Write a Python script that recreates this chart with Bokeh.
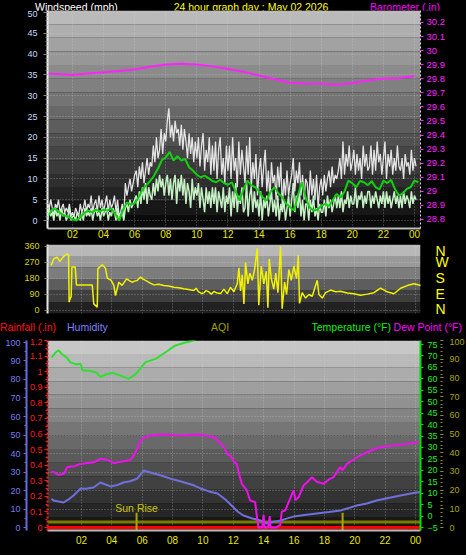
import numpy as np
from bokeh.plotting import figure
from bokeh.models import Range1d, LinearAxis, FixedTicker, NumeralTickFormatter, Grid, Div
from bokeh.layouts import column
from bokeh.embed import file_html
from bokeh.resources import INLINE
from bokeh.core.properties import value

FONT = "Liberation Sans"

# ------------------------------------------------------------------ data
chart_title = "24 hour graph day : May 02 2026"
hour_ticks = [2, 4, 6, 8, 10, 12, 14, 16, 18, 20, 22, 24]
hour_labels = ["02", "04", "06", "08", "10", "12", "14", "16", "18", "20", "22", "00"]

# wind, sampled every 0.1 h
wind_interval_h = 0.1
gust_mph = [2, 3, 2, 4, 3, 5, 3, 1, 4, 3,
            5, 2, 3, 4, 2, 3, 2, 4, 1, 2,
            1, 3, 2, 1, 4, 2, 3, 5, 2, 4,
            3, 6, 2, 4, 5, 2, 6, 3, 5, 2,
            4, 6, 2, 5, 3, 4, 6, 2, 5, 1,
            2, 4, 1, 9, 6, 8, 10, 7, 9, 11,
            12, 8, 13, 10, 14, 9, 12, 15, 11, 14,
            13, 18, 14, 20, 15, 17, 22, 16, 21, 19,
            24, 27, 20, 23, 19, 24, 21, 22, 18, 23,
            17, 22, 19, 15, 21, 16, 20, 14, 19, 15,
            20, 13, 18, 21, 12, 17, 14, 20, 11, 18,
            12, 19, 10, 17, 20, 11, 15, 9, 18, 12,
            18, 10, 20, 12, 15, 8, 19, 11, 17, 13,
            9, 18, 11, 20, 8, 14, 10, 16, 6, 12,
            15, 8, 13, 17, 7, 12, 5, 14, 9, 11,
            5, 13, 8, 14, 3, 10, 6, 12, 6, 9,
            11, 15, 7, 12, 9, 14, 6, 11, 5, 10,
            9, 4, 12, 6, 10, 5, 11, 3, 8, 10,
            6, 11, 7, 10, 12, 8, 13, 9, 11, 10,
            12, 15, 10, 19, 11, 16, 13, 18, 12, 14,
            17, 11, 16, 12, 15, 10, 18, 13, 16, 12,
            13, 18, 11, 17, 12, 19, 14, 16, 11, 15,
            19, 10, 16, 13, 17, 11, 15, 12, 18, 13,
            12, 15, 10, 16, 13, 14, 11, 17, 12, 15,
            13]
speed_mph = [0, 1, 2, 0, 3, 1, 2, 0, 3, 1,
             2, 0, 3, 1, 2, 0, 1, 3, 0, 1,
             1, 0, 2, 1, 0, 2, 0, 3, 1, 2,
             1, 3, 0, 2, 3, 1, 2, 0, 3, 1,
             2, 3, 0, 2, 1, 3, 2, 0, 3, 0,
             1, 2, 0, 3, 4, 2, 5, 3, 4, 5,
             6, 3, 7, 4, 8, 5, 9, 4, 8, 6,
             5, 9, 6, 10, 7, 11, 8, 10, 6, 9,
             11, 6, 10, 5, 9, 11, 4, 10, 7, 11,
             6, 10, 4, 9, 7, 3, 10, 5, 8, 6,
             9, 3, 8, 5, 2, 8, 4, 7, 3, 8,
             4, 8, 2, 7, 5, 3, 8, 2, 6, 4,
             8, 1, 7, 3, 9, 2, 6, 4, 8, 2,
             3, 9, 1, 6, 8, 2, 7, 3, 5, 1,
             7, 0, 5, 3, 6, 1, 4, 7, 2, 5,
             1, 6, 0, 4, 2, 5, 0, 3, 6, 1,
             5, 9, 2, 6, 3, 7, 1, 5, 0, 4,
             4, 0, 5, 2, 6, 1, 3, 0, 4, 2,
             2, 5, 1, 6, 3, 5, 2, 4, 6, 3,
             6, 3, 7, 2, 5, 4, 7, 3, 6, 4,
             4, 8, 3, 6, 5, 7, 3, 6, 4, 7,
             7, 3, 6, 4, 7, 5, 3, 6, 4, 7,
             3, 7, 4, 6, 3, 5, 7, 4, 6, 3,
             6, 3, 7, 4, 6, 5, 3, 7, 4, 6,
             5]
avg_interval_h = 0.25
avg_mph = [0.5, 1.5, 2.9, 2.5, 1.7, 1.2, 0.8, 0.3, 0.0, 0.8, 1.8, 2.4, 2.0, 2.6, 2.2, 2.6,
           2.4, 2.9, 1.5, 0.0, 2.5, 4.4, 3.8, 4.2, 5.5, 7.5, 8.5, 9.5, 10.8, 12.5, 14.5, 15.2,
           16.5, 14.4, 15.5, 14.4, 14.8, 12.8, 12.0, 11.0, 10.4, 10.8, 10.2, 9.5, 9.2, 9.8, 9.0, 8.6,
           9.2, 7.0, 4.8, 7.5, 9.6, 8.5, 8.0, 7.0, 5.5, 4.8, 7.0, 8.0, 6.5, 5.6, 4.0, 3.2,
           2.4, 6.0, 9.2, 5.5, 3.2, 2.4, 2.6, 3.5, 4.0, 3.5, 5.0, 6.4, 5.5, 7.0, 9.6, 9.0,
           8.0, 9.5, 9.2, 8.5, 9.5, 8.0, 7.5, 9.6, 9.0, 9.8, 7.5, 6.0, 6.5, 7.6, 8.0, 9.6, 9.2]

baro_hours = [0, 1, 2, 3, 4, 5, 6, 7, 8, 9, 10, 11, 12, 13, 14, 15, 16, 17, 18, 19, 20, 21, 22, 23, 24]
baro_in = [29.836, 29.834, 29.826, 29.838, 29.846, 29.855, 29.866, 29.885, 29.902, 29.907,
           29.902, 29.888, 29.870, 29.850, 29.823, 29.797, 29.772, 29.766, 29.764, 29.758,
           29.770, 29.787, 29.801, 29.806, 29.820]
wind_ticks = [0, 5, 10, 15, 20, 25, 30, 35, 40, 45, 50]
baro_ticks = [28.8, 28.9, 29.0, 29.1, 29.2, 29.3, 29.4, 29.5, 29.6, 29.7, 29.8, 29.9, 30.0, 30.1, 30.2]

# wind direction
dir_hours = [0.0, 0.18, 0.4, 0.57, 0.84, 1.06, 1.15, 1.19, 1.28, 1.32, 1.37, 1.59, 1.67, 2.71, 2.81,
             3.04, 3.08, 3.37, 3.58, 3.7, 3.96, 4.13, 4.24, 4.46, 4.68, 4.97, 5.15, 5.34, 5.5, 5.67,
             5.89, 6.05, 6.22, 6.5, 6.77, 7.1, 7.42, 7.75, 8.08, 8.4, 8.74, 9.05, 9.4, 9.55, 9.7,
             9.9, 10.06, 10.2, 10.4, 10.55, 10.72, 10.95, 11.16, 11.38, 11.6, 11.82, 12.04, 12.26,
             12.37, 12.48, 12.59, 12.7, 12.81, 12.96, 13.09, 13.25, 13.4, 13.58, 13.68, 13.84,
             14.01, 14.17, 14.28, 14.37, 14.5, 14.67, 14.8, 14.94, 15.11, 15.22, 15.38, 15.51,
             15.66, 15.82, 15.99, 16.17, 16.28, 16.36, 16.54, 16.76, 16.98, 17.2, 17.42, 17.53,
             17.64, 17.86, 18.08, 18.41, 18.74, 19.06, 19.51, 19.94, 20.38, 20.82, 21.26, 21.7,
             22.14, 22.58, 23.02, 23.46, 23.89, 24.38]
dir_deg = [253, 291, 300, 276, 305, 319, 310, 47, 75, 75, 244, 244, 144, 144, 37,
           19, 234, 257, 238, 182, 169, 141, 84, 159, 141, 178, 168, 159, 165, 169,
           188, 176, 169, 155, 144, 148, 141, 138, 131, 128, 122, 118, 112, 125, 106,
           96, 99, 112, 104, 92, 107, 98, 95, 120, 95, 130, 105, 150,
           240, 110, 200, 37, 270, 150, 210, 170, 230, 350, 30, 250,
           150, 220, 15, 290, 180, 120, 210, 100, 360, 10, 160, 90,
           230, 170, 250, 180, 310, 40, 100, 70, 90, 80, 140, 170,
           90, 70, 100, 115, 105, 108, 98, 94, 86, 92, 100, 126,
           105, 94, 125, 140, 150, 140]
dir_ticks = [0, 90, 180, 270, 360]
compass_labels = ["N", "E", "S", "W", "N"]

# temperature / dew point / humidity
temp_hours = [0.03, 0.29, 0.5, 0.75, 1.0, 1.28, 1.67, 1.94, 2.07, 2.46, 2.99, 3.25, 3.58, 4.05,
              4.57, 5.1, 5.56, 6.22, 6.88, 7.54, 8.19, 8.85, 9.38, 9.7]
temp_f = [69.3, 71.5, 72.4, 70.6, 69.5, 67.1, 66.3, 66.6, 63.6, 63.6, 62.8, 60.7, 61.9, 62.6,
          61.4, 60.0, 61.9, 67.3, 68.7, 71.6, 74.6, 75.9, 76.7, 78.0]
dew_hours = [0.03, 0.18, 0.5, 0.84, 1.06, 1.5, 1.94, 2.4, 2.81, 3.25, 3.69, 4.13, 4.5, 4.79, 5.2,
             5.45, 5.7, 5.89, 6.2, 6.55, 7.1, 7.65, 8.2, 8.74, 9.3, 9.84, 10.3, 10.72, 11.0, 11.16,
             11.4, 11.6, 11.82, 12.0, 12.23, 12.4, 12.56, 12.89, 13.11, 13.44, 13.55, 13.66, 13.9,
             14.0, 14.05, 14.3, 14.4, 14.45, 14.8, 15.09, 15.2, 15.42, 15.64, 15.97, 16.1, 16.3,
             16.63, 16.9, 17.18, 17.5, 17.94, 18.3, 18.6, 19.04, 19.2, 19.48, 20.14, 20.5, 20.8,
             21.2, 21.68, 22.1, 22.56, 23.0, 23.43, 23.8, 24.2]
dew_f = [19.5, 19.2, 18.0, 18.5, 21.4, 21.8, 22.8, 23.2, 23.5, 25.0, 24.6, 23.1, 23.6, 24.0, 24.5,
         26.5, 30.0, 33.0, 34.5, 35.2, 35.5, 35.7, 35.3, 35.2, 35.6, 35.7, 35.0, 34.5, 33.0, 31.6,
         30.0, 27.0, 26.5, 24.0, 22.8, 18.0, 14.1, 11.2, 6.8, 6.1, 0.0, -5.0, -5.0,
         0.5, -5.0, -5.0, 0.0, -5.0, -5.0, -4.0, 2.0, 2.4, 6.0, 11.2, 7.0, 8.2,
         13.4, 15.0, 17.0, 15.0, 14.1, 16.0, 17.0, 21.4, 20.0, 22.8, 25.7, 27.0, 27.9,
         29.0, 30.1, 30.5, 30.8, 31.2, 31.6, 32.0, 32.3]
hum_hours = [0.03, 0.16, 0.5, 0.82, 1.2, 1.48, 1.94, 2.3, 2.79, 3.25, 3.5, 3.91, 4.3, 4.77, 5.2,
             5.69, 6.09, 6.55, 7.3, 8.06, 8.5, 8.99, 9.4, 9.84, 10.4, 10.96, 11.5, 12.02, 12.3,
             12.67, 13.2, 13.79, 14.19, 14.6, 15.11, 15.5, 15.97, 16.7, 17.48, 18.3, 19.06, 19.6,
             20.12, 20.8, 21.44, 22.2, 23.02, 23.6, 24.07, 24.3]
hum_pct = [15.5, 14.6, 14.0, 13.5, 15.5, 17.3, 21.1, 21.0, 21.6, 24.3, 23.5, 22.2, 22.8, 24.3, 25.0,
           26.5, 30.8, 29.7, 28.0, 25.9, 25.0, 23.8, 22.8, 21.1, 19.5, 18.4, 15.0, 10.8, 8.5,
           6.5, 5.0, 3.8, 2.2, 3.0, 3.8, 4.8, 5.9, 6.8, 7.6, 8.4, 9.2, 10.5,
           11.9, 13.0, 14.6, 16.0, 17.3, 18.2, 18.9, 19.0]
aqi_hours = [-0.3, 1, 2, 3, 4, 5, 6, 7, 8, 9, 10, 11, 12, 13, 14, 15, 16, 17, 18, 19, 20, 21, 22, 23, 24, 24.4]
aqi = [3, 3, 3, 3, 3, 3, 3, 3, 3, 3, 3, 3, 3, 3, 3, 3, 3, 3, 3, 3, 3, 3, 3, 3, 3, 3]
rain_hours = [-0.3, 6, 12, 18, 24, 24.4]
rain_in = [0, 0, 0, 0, 0, 0]
sun_hours = [5.63, 19.2]
sun_labels = ["Sun Rise", ""]

hum_ticks = [0, 10, 20, 30, 40, 50, 60, 70, 80, 90, 100]
rain_ticks = [0, 0.1, 0.2, 0.3, 0.4, 0.5, 0.6, 0.7, 0.8, 0.9, 1.0, 1.1, 1.2]
temp_ticks = [-5, 0, 5, 10, 15, 20, 25, 30, 35, 40, 45, 50, 55, 60, 65, 70, 75]
aqi_ticks = [0, 10, 20, 30, 40, 50, 60, 70, 80, 90, 100]

wind_hours = [round(wind_interval_h * (i + 1), 3) for i in range(len(gust_mph))]
avg_hours = [round(avg_interval_h * (i + 1), 3) for i in range(len(avg_mph))]

# ------------------------------------------------------------------ layout constants
W = 466            # layout width
BL, BR = 47, 46    # common left / right borders so the frames line up
FW = W - BL - BR   # frame width


# ------------------------------------------------------------------ helpers
def gradient(p, top_gray, bottom_gray, n=16):
    xr, yr = p.x_range, p.y_range
    edges = np.linspace(yr.start, yr.end, n + 1)
    t = (np.arange(n) + 0.5) / n
    vals = (bottom_gray + (top_gray - bottom_gray) * t).astype(int)
    cols = ["#%02x%02x%02x" % (v, v, v) for v in vals]
    p.quad(left=xr.start, right=xr.end, bottom=edges[:-1], top=edges[1:],
           fill_color=cols, line_color=None, level="image")


def style(ax, color, size="9px", tick_color=None, line_color=None, line_width=1,
          tick_out=3, minor_out=0, standoff=2, dash=None):
    ax.major_label_text_color = color
    ax.major_label_text_font_size = size
    ax.major_label_text_font = FONT
    ax.major_label_standoff = standoff
    ax.major_tick_line_color = tick_color
    ax.major_tick_out = tick_out
    ax.major_tick_in = 0
    ax.minor_tick_line_color = tick_color if minor_out else None
    ax.minor_tick_out = minor_out
    ax.minor_tick_in = 0
    ax.axis_line_color = line_color
    ax.axis_line_width = line_width
    if dash:
        ax.axis_line_dash = dash


def dotted_grid(g):
    g.grid_line_color = "#d8d8d8"
    g.grid_line_alpha = 0.45
    g.grid_line_dash = "1 2"


def base_fig(**kw):
    return figure(toolbar_location=None, output_backend="svg",
                  background_fill_color="black", border_fill_color="black",
                  outline_line_color=None, frame_width=FW,
                  min_border_left=BL, min_border_right=BR, **kw)


def header_div(height, line_h, items):
    spans = []
    for (lx, txt, col, align) in items:
        if align == "left":
            pos = "left:%dpx;" % lx
        elif align == "right":
            pos = "right:%dpx;" % (W - lx)
        else:
            pos = "left:%dpx;transform:translateX(-50%%);" % lx
        spans.append('<span style="position:absolute;top:0;%sline-height:%dpx;color:%s;'
                     'white-space:nowrap;">%s</span>' % (pos, line_h, col, txt))
    html = ('<div style="position:relative;width:%dpx;height:%dpx;background:#000;'
            'font-family:\'%s\';font-size:10.5px;overflow:hidden;">%s</div>'
            % (W, height, FONT, "".join(spans)))
    return Div(text=html, width=W, height=height, margin=0,
               styles={"background-color": "black"})


hour_overrides = dict(zip(hour_ticks, hour_labels))

# ------------------------------------------------------------------ header 1
h1 = header_div(10, 11, [(35, "Windspeed (mph)", "#ffffff", "left"),
                         (251, chart_title, "#ffff00", "center"),
                         (440, "Barometer (.in)", "#ff00ff", "right")])

# ------------------------------------------------------------------ panel 1 : wind + barometer
p1 = base_fig(frame_height=218,
              x_range=Range1d(0.392, 24.387), y_range=Range1d(-1.92, 50.5),
              min_border_top=0, min_border_bottom=14)
p1.extra_y_ranges = {"baro": Range1d(28.736, 30.285)}
gradient(p1, 192, 6)
p1.xgrid.ticker = FixedTicker(ticks=hour_ticks)
p1.ygrid.ticker = FixedTicker(ticks=wind_ticks)
dotted_grid(p1.xgrid[0])
dotted_grid(p1.ygrid[0])

p1.line(wind_hours, gust_mph, line_color="#f2f2f2", line_width=1.3, line_alpha=0.92)
p1.line(wind_hours, speed_mph, line_color="#c4f0c4", line_width=1.5)
p1.line(avg_hours, avg_mph, line_color="#10d010", line_width=2)
p1.line(baro_hours, baro_in, line_color="#ff22ff", line_width=2, y_range_name="baro")

ax = p1.xaxis[0]
ax.ticker = FixedTicker(ticks=hour_ticks)
ax.major_label_overrides = hour_overrides
style(ax, "#e8e800", size="10px", tick_color=None, line_color="#bbbbbb", line_width=2,
      tick_out=0, standoff=1)
ay = p1.yaxis[0]
ay.ticker = FixedTicker(ticks=wind_ticks, minor_ticks=list(range(0, 51)))
style(ay, "#c4daf8", tick_color="#8a8a8a", line_color="#eeeeee", line_width=2,
      tick_out=4, minor_out=2, standoff=6)
bax = LinearAxis(y_range_name="baro", ticker=FixedTicker(ticks=baro_ticks),
                 formatter=NumeralTickFormatter(format="0.[0]"))
style(bax, "#ff22ff", size="9.5px", tick_color="#ff22ff", line_color="#dddddd",
      tick_out=3, standoff=3, dash="2 2")
p1.add_layout(bax, "right")

# ------------------------------------------------------------------ panel 2 : wind direction
p2 = base_fig(frame_height=69,
              x_range=Range1d(-0.237, 24.33), y_range=Range1d(-16.9, 371),
              min_border_top=2, min_border_bottom=3, x_axis_location=None)
gradient(p2, 200, 18, n=6)
p2.xgrid.ticker = FixedTicker(ticks=hour_ticks)
p2.ygrid.ticker = FixedTicker(ticks=dir_ticks)
dotted_grid(p2.xgrid[0])
dotted_grid(p2.ygrid[0])
p2.line(dir_hours, dir_deg, line_color="#f2f200", line_width=1.5)
ay2 = p2.yaxis[0]
ay2.ticker = FixedTicker(ticks=dir_ticks)
style(ay2, "#d8d800", size="9px", tick_color="#8a8a40", line_color="#e6e6e6", line_width=2,
      tick_out=3, standoff=5)
cax = LinearAxis(ticker=FixedTicker(ticks=dir_ticks),
                 major_label_overrides=dict(zip(dir_ticks, compass_labels)))
style(cax, "#ffff00", size="14px", tick_color=None, line_color=None, tick_out=0, standoff=15)
p2.add_layout(cax, "right")

# ------------------------------------------------------------------ header 3
h3 = header_div(22, 22, [(0, "Rainfall (.in)", "#ff1010", "left"),
                         (67, "Humidity", "#8080ff", "left"),
                         (211, "AQI", "#a0a000", "left"),
                         (391, "Temperature (°F)", "#10f010", "right"),
                         (462, "Dew Point (°F)", "#ff00ff", "right")])

# ------------------------------------------------------------------ panel 3
p3 = base_fig(frame_height=190,
              x_range=Range1d(-0.237, 24.33), y_range=Range1d(-0.019, 1.2),
              min_border_top=2, min_border_bottom=25)
p3.extra_y_ranges = {"hum": Range1d(-1.62, 101.08), "temp": Range1d(-6.31, 76.75),
                     "aqi": Range1d(-1.6, 100.0)}
gradient(p3, 206, 18, n=14)
p3.xgrid.ticker = FixedTicker(ticks=hour_ticks)
dotted_grid(p3.xgrid[0])
p3.ygrid.visible = False
p3.add_layout(Grid(dimension=1, ticker=FixedTicker(ticks=hum_ticks), y_range_name="hum",
                   grid_line_color="#d8d8d8", grid_line_alpha=0.45, grid_line_dash="1 2"))

p3.line(aqi_hours, aqi, y_range_name="aqi", line_color="#8c8c00", line_width=3, line_alpha=0.85)
p3.line(rain_hours, rain_in, line_color="#ff0000", line_width=3)
p3.segment(x0=sun_hours, x1=sun_hours, y0=-2, y1=8, y_range_name="hum",
           line_color="#a8a800", line_width=2)
p3.text(x=sun_hours, y=[10.5, 10.5], text=sun_labels, y_range_name="hum",
        text_color="#c8c800", text_font=value(FONT), text_font_size="10.5px",
        text_align="center", text_baseline="middle")
p3.line(hum_hours, hum_pct, y_range_name="hum", line_color="#7070dd", line_width=2)
p3.line(dew_hours, dew_f, y_range_name="temp", line_color="#ee11ee", line_width=2)
p3.line(temp_hours, temp_f, y_range_name="temp", line_color="#30e030", line_width=2)

ax3 = p3.xaxis[0]
ax3.ticker = FixedTicker(ticks=hour_ticks)
ax3.major_label_overrides = hour_overrides
style(ax3, "#e8e800", size="10px", tick_color=None, line_color="#bbbbbb", line_width=2,
      tick_out=0, standoff=5)
rax = p3.yaxis[0]
rax.ticker = FixedTicker(ticks=rain_ticks, minor_ticks=[i * 0.05 for i in range(25)])
rax.formatter = NumeralTickFormatter(format="0.[0]")
style(rax, "#ff1a1a", size="9px", tick_color="#ff1a1a", line_color="#ff2020", line_width=2,
      tick_out=3, minor_out=2, standoff=2, dash="2 2")
hax = LinearAxis(y_range_name="hum", ticker=FixedTicker(ticks=hum_ticks, minor_ticks=list(range(0, 101, 5))))
style(hax, "#7c7cf0", size="9px", tick_color="#6a6ae0", line_color="#6a6ae0", line_width=2,
      tick_out=3, minor_out=2, standoff=3)
p3.add_layout(hax, "left")
tax = LinearAxis(y_range_name="temp", ticker=FixedTicker(ticks=temp_ticks))
style(tax, "#20ee20", size="9px", tick_color="#00dd00", line_color="#00dd00", line_width=2,
      tick_out=3, standoff=4)
p3.add_layout(tax, "right")
qax = LinearAxis(y_range_name="aqi", ticker=FixedTicker(ticks=aqi_ticks, minor_ticks=list(range(0, 101, 2))))
style(qax, "#a8a800", size="9px", tick_color="#909000", line_color=None,
      tick_out=3, minor_out=2, standoff=6)
p3.add_layout(qax, "right")

layout = column(h1, p1, p2, h3, p3, spacing=0, styles={"background-color": "black"})
open("out.html", "w").write(file_html(layout, INLINE, title="24 hour graph"))
